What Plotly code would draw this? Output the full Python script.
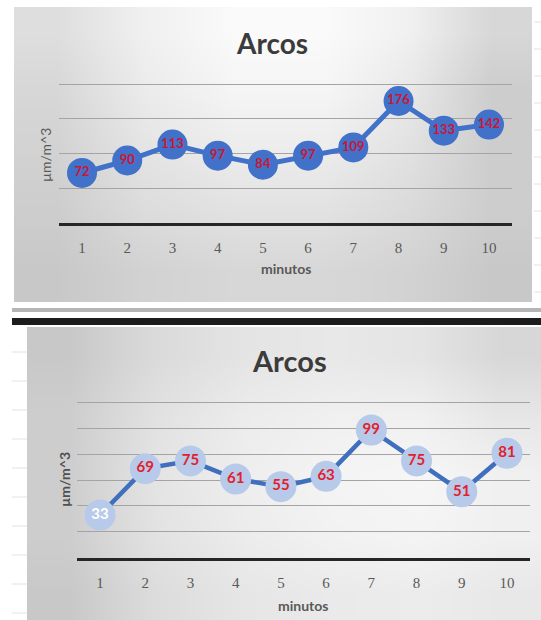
import plotly.graph_objects as go

# ---- data -------------------------------------------------------------
minutes = [1, 2, 3, 4, 5, 6, 7, 8, 9, 10]
arcos_a = [72, 90, 113, 97, 84, 97, 109, 176, 133, 142]
arcos_b = [33, 69, 75, 61, 55, 63, 99, 75, 51, 81]
tick_text = [str(m) for m in minutes]

chart_title = "Arcos"
x_title = "minutos"
y_title = "µm/m^3"

# ---- page geometry (pixels) ------------------------------------------
W, H = 541, 620


def px(x):
    return x / W


def py(y):
    return 1 - y / H


# panel backgrounds: edges in pixels and grey levels per cell
top_bg_x = [14, 100, 190, 280, 370, 450, 532]
top_bg_y = [7, 60, 120, 180, 240, 302]
top_bg_z = [
    [222, 240, 250, 250, 240, 215],
    [215, 235, 245, 245, 232, 205],
    [210, 228, 236, 236, 225, 205],
    [205, 220, 226, 226, 218, 205],
    [200, 210, 215, 215, 210, 200],
]
bot_bg_x = [27, 110, 200, 290, 380, 460, 541]
bot_bg_y = [327, 385, 445, 505, 565, 620]
bot_bg_z = [
    [200, 218, 228, 232, 228, 215],
    [205, 225, 236, 240, 240, 230],
    [205, 228, 238, 244, 246, 240],
    [205, 226, 236, 242, 244, 240],
    [200, 220, 230, 234, 236, 232],
]
grey_scale = [[0, "rgb(0,0,0)"], [1, "rgb(255,255,255)"]]

fig = go.Figure()

for bx, by, bz in [(top_bg_x, top_bg_y, top_bg_z), (bot_bg_x, bot_bg_y, bot_bg_z)]:
    fig.add_trace(go.Heatmap(
        x=bx, y=by, z=bz, zmin=0, zmax=255, colorscale=grey_scale,
        zsmooth="best", showscale=False, hoverinfo="skip",
        xaxis="x", yaxis="y",
    ))

# ---- series -----------------------------------------------------------
blue = "#4171c8"
fig.add_trace(go.Scatter(
    x=minutes, y=arcos_a, mode="lines+markers+text",
    text=[str(v) for v in arcos_a], textposition="middle center",
    textfont=dict(family="Lato", size=13, color="#cc1634", weight="bold"),
    line=dict(color=blue, width=5),
    marker=dict(size=30, color=blue, line=dict(width=0)),
    xaxis="x2", yaxis="y2", showlegend=False,
))

label_colors_b = ["#ffffff"] + ["#e3202b"] * (len(arcos_b) - 1)
fig.add_trace(go.Scatter(
    x=minutes, y=arcos_b, mode="lines+markers+text",
    text=[str(v) for v in arcos_b], textposition="middle center",
    textfont=dict(family="Lato", size=15, color=label_colors_b, weight="bold"),
    line=dict(color="#4070bd", width=4.5),
    marker=dict(size=31, color="#b7cae9", line=dict(width=0)),
    xaxis="x3", yaxis="y3", showlegend=False,
))

tick_font = dict(family="Liberation Serif", size=15, color="#595959")
grid_col = "#a4a4a4"


def cat_axis(domain, anchor):
    return dict(
        domain=domain, anchor=anchor, range=[0.5, 10.5],
        tickvals=minutes, ticktext=tick_text, tickfont=tick_font,
        ticks="", showgrid=False, zeroline=False,
        showline=True, linecolor="#262626", linewidth=3,
        ticklabelstandoff=9, fixedrange=True,
    )


def val_axis(domain, anchor, top, step):
    return dict(
        domain=domain, anchor=anchor, range=[0, top], dtick=step,
        showticklabels=False, ticks="", showgrid=True,
        gridcolor=grid_col, gridwidth=1.2, zeroline=False,
        showline=False, fixedrange=True,
    )


# value axes run a touch past the last gridline so that line is drawn
fig.update_layout(
    width=W, height=H,
    margin=dict(l=0, r=0, t=0, b=0),
    paper_bgcolor="white", plot_bgcolor="rgba(0,0,0,0)",
    xaxis=dict(domain=[0, 1], range=[0, W], visible=False, fixedrange=True),
    yaxis=dict(domain=[0, 1], range=[H, 0], visible=False, fixedrange=True),
    xaxis2=cat_axis([px(59.4), px(511.6)], "y2"),
    yaxis2=val_axis([py(222.8), py(222.8 - 202 * 0.692)], "x2", 202, 50),
    xaxis3=cat_axis([px(77.4), px(529.6)], "y3"),
    yaxis3=val_axis([py(557.5), py(557.5 - 121.5 * 1.288)], "x3", 121.5, 20),
)

# ---- text -------------------------------------------------------------
ann = []
for cx, cy, size in [(272, 43, 28), (289, 360, 29)]:
    ann.append(dict(x=px(cx), y=py(cy), xref="paper", yref="paper",
                    text=f"<b>{chart_title}</b>", showarrow=False,
                    font=dict(family="Lato", size=size, color="#3b3b3b"),
                    xanchor="center", yanchor="middle"))
for cx, cy in [(286, 268), (303, 605)]:
    ann.append(dict(x=px(cx), y=py(cy), xref="paper", yref="paper",
                    text=f"<b>{x_title}</b>", showarrow=False,
                    font=dict(family="Lato", size=14, color="#595959"),
                    xanchor="center", yanchor="middle"))
ann.append(dict(x=px(45), y=py(155), xref="paper", yref="paper",
                text=y_title, showarrow=False, textangle=-90,
                font=dict(family="Lato", size=14, color="#595959"),
                xanchor="center", yanchor="middle"))
ann.append(dict(x=px(64), y=py(480), xref="paper", yref="paper",
                text=f"<b>{y_title}</b>", showarrow=False, textangle=-90,
                font=dict(family="Lato", size=14, color="#505050"),
                xanchor="center", yanchor="middle"))
fig.update_layout(annotations=ann)

# ---- separators and faint sheet rulings ------------------------------
shapes = [
    dict(type="rect", xref="paper", yref="paper", x0=px(12), x1=1,
         y0=py(312), y1=py(308), fillcolor="#b5b5b5", line=dict(width=0)),
    dict(type="rect", xref="paper", yref="paper", x0=px(12), x1=1,
         y0=py(325), y1=py(318), fillcolor="#1c1c1c", line=dict(width=0)),
]
for ry in range(22, 300, 27):
    shapes.append(dict(type="line", xref="paper", yref="paper",
                       x0=px(534), x1=1, y0=py(ry), y1=py(ry),
                       line=dict(color="#e2e2e2", width=1)))
for ry in range(352, 620, 29):
    shapes.append(dict(type="line", xref="paper", yref="paper",
                       x0=px(12), x1=px(27), y0=py(ry), y1=py(ry),
                       line=dict(color="#e2e2e2", width=1)))
fig.update_layout(shapes=shapes)

fig.write_html("out.html")
